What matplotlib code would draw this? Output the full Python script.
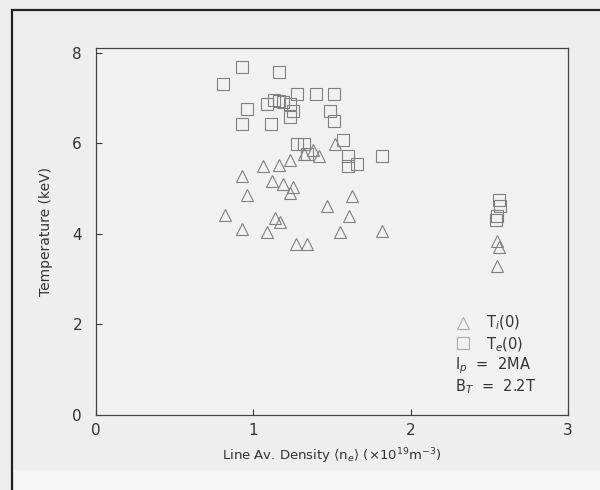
#!/usr/bin/env python3
"""Ion and electron central temperature vs line averaged density (scanned figure)."""

import matplotlib

matplotlib.use("Agg")

import matplotlib.pyplot as plt
from matplotlib.patches import Rectangle

# T_i(0) points: density (1e19 m^-3), temperature (keV)
TI_DENSITY = [0.82, 0.93, 0.96, 0.93, 1.06, 1.16, 1.23, 1.12, 1.19, 1.25,
              1.23, 1.17, 1.09, 1.14, 1.27, 1.34, 1.47, 1.63, 1.61, 1.55,
              1.82, 1.52, 1.32, 1.38, 1.42, 2.55, 2.56, 2.55]
TI_TEMP = [4.42, 5.27, 4.86, 4.10, 5.49, 5.51, 5.62, 5.16, 5.10, 5.03,
           4.90, 4.25, 4.03, 4.35, 3.77, 3.77, 4.62, 4.84, 4.40, 4.03,
           4.07, 5.99, 5.77, 5.84, 5.71, 3.85, 3.70, 3.28]

# T_e(0) points
TE_DENSITY = [0.81, 0.93, 1.16, 0.96, 0.93, 1.11, 1.09, 1.16, 1.19, 1.23,
              1.25, 1.23, 1.28, 1.40, 1.51, 1.49, 1.51, 1.28, 1.34, 1.57,
              1.60, 1.60, 1.66, 1.82, 1.32, 1.13, 2.56, 2.57, 2.55, 2.54]
TE_TEMP = [7.30, 7.67, 7.58, 6.75, 6.43, 6.43, 6.86, 6.93, 6.90, 6.86,
           6.71, 6.58, 7.08, 7.08, 7.08, 6.71, 6.49, 5.99, 5.77, 6.06,
           5.71, 5.49, 5.55, 5.71, 5.99, 6.95, 4.75, 4.62, 4.40, 4.30]

X_TICKS = [0, 1, 2, 3]
Y_TICKS = [0, 2, 4, 6, 8]

BG = "#eeeeee"
INK = "#333333"
MARK = "#808080"

fig = plt.figure(figsize=(6.0, 4.9), dpi=100, facecolor=BG)

# outer frame of the scanned page
frame = Rectangle((12 / 600, -0.05), 1.1, 1 - 10 / 490 + 0.05,
                  transform=fig.transFigure, fill=False,
                  edgecolor="#222222", lw=1.6, clip_on=False)
fig.add_artist(frame)
fig.add_artist(Rectangle((14 / 600, 0), 1, 20 / 490, transform=fig.transFigure,
                         facecolor="#f6f6f6", edgecolor="none", zorder=-1))

ax = fig.add_axes([96 / 600, 1 - 415 / 490, 472 / 600, 367 / 490])
ax.set_facecolor("#f1f1f1")

ax.plot(TI_DENSITY, TI_TEMP, linestyle="none", marker="^", ms=8.5,
        mfc="none", mec=MARK, mew=0.8)
ax.plot(TE_DENSITY, TE_TEMP, linestyle="none", marker="s", ms=8,
        mfc="none", mec=MARK, mew=0.8)

ax.set_xlim(0, 3)
ax.set_ylim(0, 8.1)
ax.set_xticks(X_TICKS)
ax.set_yticks(Y_TICKS)
ax.tick_params(direction="in", length=4, width=0.8, labelsize=11,
               colors=INK, top=False, right=False)
ax.tick_params(axis="y", pad=10)
ax.tick_params(axis="x", pad=6)
for spine in ax.spines.values():
    spine.set_color("#444444")
    spine.set_linewidth(0.9)

ax.set_xlabel(r"Line Av. Density $\langle$n$_e\rangle$ ($\times$10$^{19}$m$^{-3}$)",
              fontsize=9.5, color=INK, labelpad=6)
ax.set_ylabel("Temperature (keV)", fontsize=10, color=INK, labelpad=14)

# key in the lower right corner
ax.plot([2.33], [2.03], linestyle="none", marker="^", ms=8.5,
        mfc="none", mec="#aaaaaa", mew=0.8)
ax.plot([2.33], [1.58], linestyle="none", marker="s", ms=8,
        mfc="none", mec="#aaaaaa", mew=0.8)
ax.text(2.48, 2.03, r"T$_i$(0)", fontsize=10.5, color=INK, va="center")
ax.text(2.48, 1.56, r"T$_e$(0)", fontsize=10.5, color=INK, va="center")
ax.text(2.28, 1.08, r"I$_p$  =  2MA", fontsize=10.5, color=INK, va="center")
ax.text(2.28, 0.62, r"B$_T$  =  2.2T", fontsize=10.5, color=INK, va="center")

fig.savefig("out.png", dpi=100, facecolor=BG)
